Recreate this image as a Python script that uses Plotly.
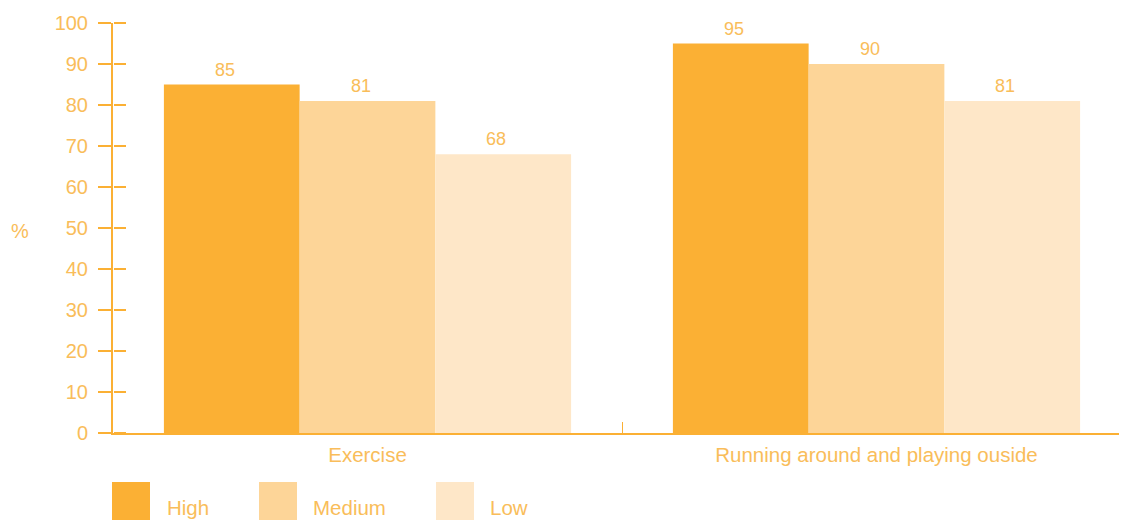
import plotly.graph_objects as go

categories = ["Exercise", "Running around and playing ouside"]
series_names = ["High", "Medium", "Low"]
high = [85, 95]
medium = [81, 90]
low = [68, 81]
series_values = [high, medium, low]
y_ticks = list(range(0, 101, 10))

colors = ["#FBB034", "#FDD598", "#FEE7C8"]
axis_color = "#FBB034"
text_color = "#F9BD5A"
FONT = "Liberation Sans"

# page has an 8px body margin
OFF = 8
W, H = 1140, 520 - OFF
ML, MR, MT, MB = 113 - OFF, 0, 23 - OFF, 520 - 433
PW, PH = W - ML - MR, H - MT - MB

px_per_cat = 509.0
bargap = 0.2
bar_px = px_per_cat * (1 - bargap) / len(series_names)
x_hi = -0.5 + PW / px_per_cat

fig = go.Figure()
for name, vals, col in zip(series_names, series_values, colors):
    fig.add_trace(go.Bar(
        x=categories, y=vals, name=name,
        marker=dict(color=col, line=dict(width=0)),
        showlegend=False, hoverinfo="skip",
    ))
# invisible helper trace that carries the inner half of the y tick marks
fig.add_trace(go.Scatter(x=categories, y=high, yaxis="y2", mode="markers",
                         marker=dict(opacity=0), showlegend=False, hoverinfo="skip"))

# value labels above bars
for i, vals in enumerate(series_values):
    for cat, v in zip(categories, vals):
        fig.add_annotation(x=cat, y=v, text=str(v), showarrow=False,
                           xanchor="center", yanchor="bottom",
                           xshift=(i - 1) * bar_px - 7, yshift=3,
                           font=dict(family=FONT, size=18, color=text_color))

fig.update_layout(
    width=W, height=H,
    margin=dict(l=ML, r=MR, t=MT, b=MB, pad=0),
    paper_bgcolor="white", plot_bgcolor="white",
    barmode="group", bargap=bargap, bargroupgap=0,
    showlegend=False,
    font=dict(family=FONT, color=text_color),
    xaxis=dict(
        type="category", range=[-0.5, x_hi],
        showline=True, linecolor=axis_color, linewidth=2,
        ticks="inside", tickson="boundaries", ticklen=11, tickwidth=1, tickcolor=axis_color,
        tickfont=dict(family=FONT, size=20.5, color=text_color),
        ticklabelstandoff=2,
        showgrid=False, zeroline=False,
    ),
    yaxis=dict(
        range=[0, 100], tickvals=y_ticks, ticktext=[str(v) for v in y_ticks],
        showline=True, linecolor=axis_color, linewidth=2,
        ticks="outside", ticklen=13, tickwidth=1.5, tickcolor=axis_color,
        tickfont=dict(family=FONT, size=20, color=text_color),
        ticklabelstandoff=6,
        showgrid=False, zeroline=False,
    ),
    yaxis2=dict(
        range=[0, 100], tickvals=y_ticks, overlaying="y", anchor="free", position=0,
        side="right",
        showline=False, ticks="outside", ticklen=12, tickwidth=1.5, tickcolor=axis_color,
        showticklabels=False, showgrid=False, zeroline=False,
    ),
)

def px_x(p):
    return (p - OFF - ML) / PW

def px_y(p):
    return (H - MB - (p - OFF)) / PH

# "%" axis label
fig.add_annotation(text="%", xref="paper", yref="paper", x=px_x(20), y=px_y(231),
                   showarrow=False, xanchor="center", yanchor="middle",
                   font=dict(family=FONT, size=20, color=text_color))

# Custom legend
sq_left = [112, 259, 436]
txt_left = [165, 311, 488]
for name, col, sx, tx in zip(series_names, colors, sq_left, txt_left):
    fig.add_shape(type="rect", xref="paper", yref="paper",
                  x0=px_x(sx), x1=px_x(sx + 38), y0=px_y(520), y1=px_y(482),
                  fillcolor=col, line=dict(width=0))
    fig.add_annotation(text=name, xref="paper", yref="paper", x=px_x(tx), y=px_y(507),
                       showarrow=False, xanchor="left", yanchor="middle",
                       font=dict(family=FONT, size=20.5, color=text_color))

fig.write_html("out.html", post_script="document.body.style.overflow='hidden';")
